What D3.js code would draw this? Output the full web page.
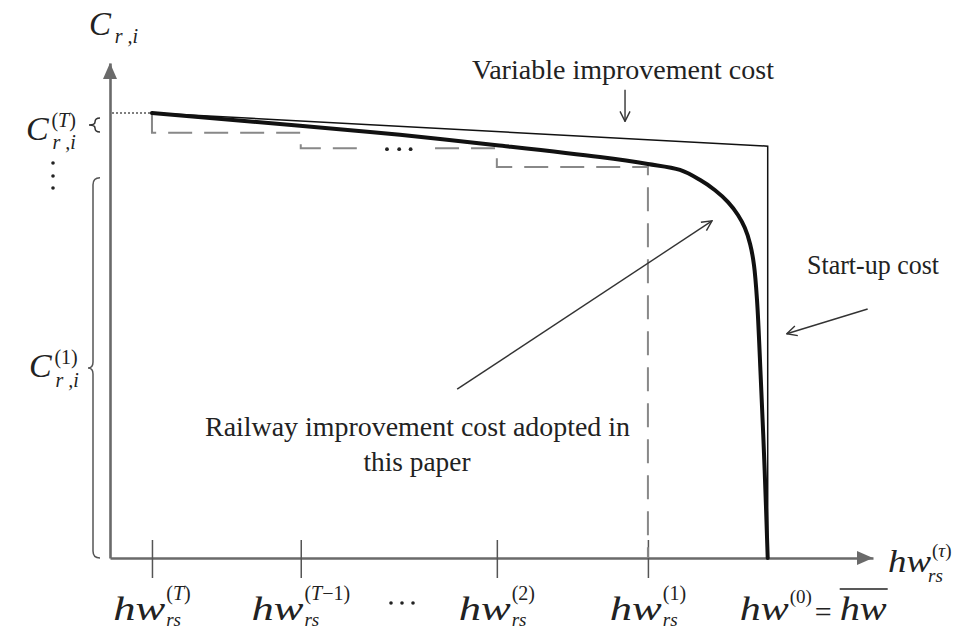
<!DOCTYPE html>
<html>
<head>
<meta charset="utf-8">
<script src="https://cdn.jsdelivr.net/npm/d3@7"></script>
<style>
  html, body { margin: 0; padding: 0; background: #fff; }
  svg { display: block; }
  svg text { font-family: "Liberation Serif", "DejaVu Serif", "Noto Serif", serif; fill: #222; }
</style>
</head>
<body>
<svg id="chart" width="953" height="632"></svg>
<script>
// ---- data (abstract units: headway along x, cost along y, both 0..100) ----
const xTicks     = [5.5, 25.0, 50.7, 70.5];          // hw^(T), hw^(T-1), hw^(2), hw^(1)
const xTickSup   = ["T", "T−1", "2", "1"];
const hwMax      = 86.2;                              // hw^(0) = upper headway bound
const stepLevels = [89.9, 85.9, 82.8, 79.0];          // discrete cost levels
const ellipsisGap = [33.0, 42.6];                     // break in the dashed staircase
const ellipsisX  = [36.3, 37.9, 39.4];

// adopted (smooth) improvement cost
const curveX = [5.5, 24.9, 38.0, 50.7, 64.2, 70.5, 74.7, 77.3, 79.3, 81.0, 82.3, 83.2, 83.9, 84.4, 84.8, 85.3, 85.8, 86.2];
const curveY = [89.9, 87.3, 85.5, 83.4, 81.0, 79.6, 78.4, 76.4, 74.3, 71.9, 69.3, 66.7, 63.4, 59.2, 52.1, 36.0, 17.8, 0];

// variable cost line + start-up cost drop
const variableX = [5.5, 86.2, 86.2];
const variableY = [89.9, 83.2, 0];

// ---- scales & axes ----
const svg = d3.select("#chart");
const x = d3.scaleLinear().domain([0, 100]).range([110, 873]);
const y = d3.scaleLinear().domain([0, 100]).range([558, 63]);

const axisColor = "#6a6a6a";
const serif = '"Liberation Serif", "DejaVu Serif", "Noto Serif", serif';

const gx = svg.append("g").attr("transform", `translate(0,${y(0)})`)
  .call(d3.axisBottom(x).tickValues(xTicks).tickFormat("").tickSizeOuter(0).tickSizeInner(20));
gx.select(".domain").attr("stroke", axisColor).attr("stroke-width", 2.6);
gx.selectAll(".tick line").attr("y1", -18).attr("y2", 20).attr("stroke", "#555").attr("stroke-width", 1.5);

const gy = svg.append("g").attr("transform", `translate(${x(0)},0)`)
  .call(d3.axisLeft(y).tickValues([]).tickSizeOuter(0));
gy.select(".domain").attr("stroke", axisColor).attr("stroke-width", 2.6);

// axis arrowheads
const xt = [x(100), y(0)], yt = [x(0), y(100)];
svg.append("path").attr("fill", axisColor)
  .attr("d", `M${xt[0]},${xt[1]} L${xt[0]-16},${xt[1]-7} L${xt[0]-16},${xt[1]+7} Z`);
svg.append("path").attr("fill", axisColor)
  .attr("d", `M${yt[0]},${yt[1]} L${yt[0]-7},${yt[1]+16} L${yt[0]+7},${yt[1]+16} Z`);

// ---- dashed staircase of discrete costs ----
const stairs = [];
for (let i = 0; i < xTicks.length; i++) {
  stairs.push([xTicks[i], stepLevels[i]]);
  const next = i + 1 < stepLevels.length ? stepLevels[i + 1] : 0;
  stairs.push([xTicks[i], next]);
  if (i === 1) stairs.push([ellipsisGap[0], next], null, [ellipsisGap[1], next]);
}
const line = d3.line().defined(d => d).x(d => x(d[0])).y(d => y(d[1]));
svg.append("path").datum(stairs)
  .attr("d", line).attr("fill", "none")
  .attr("stroke", "#888").attr("stroke-width", 2).attr("stroke-dasharray", "24,12");

svg.selectAll("circle.ell").data(ellipsisX).join("circle").attr("class", "ell")
  .attr("cx", d => x(d)).attr("cy", y(stepLevels[2]) + 1).attr("r", 1.9).attr("fill", "#222");

// dotted guide to the cost axis
svg.append("line")
  .attr("x1", x(0) + 2).attr("x2", x(xTicks[0])).attr("y1", y(stepLevels[0])).attr("y2", y(stepLevels[0]))
  .attr("stroke", "#555").attr("stroke-width", 1.4).attr("stroke-dasharray", "2,2");

// variable improvement cost (thin)
svg.append("path").datum(d3.zip(variableX, variableY))
  .attr("d", d3.line().x(d => x(d[0])).y(d => y(d[1])))
  .attr("fill", "none").attr("stroke", "#111").attr("stroke-width", 1.5);

// adopted improvement cost (thick)
svg.append("path").datum(d3.zip(curveX, curveY))
  .attr("d", d3.line().curve(d3.curveCatmullRom.alpha(0.5)).x(d => x(d[0])).y(d => y(d[1])))
  .attr("fill", "none").attr("stroke", "#111").attr("stroke-width", 4).attr("stroke-linecap", "round");

// ---- annotation arrows ----
const defs = svg.append("defs");
defs.append("marker").attr("id", "open").attr("viewBox", "0 0 12 12")
  .attr("refX", 11).attr("refY", 6).attr("markerWidth", 12).attr("markerHeight", 12)
  .attr("markerUnits", "userSpaceOnUse").attr("orient", "auto")
  .append("path").attr("d", "M1,1 L11,6 L1,11").attr("fill", "none").attr("stroke", "#333").attr("stroke-width", 1.4);

const arrows = [
  [[45.5, 34.1], [78.9, 68.1]],
  [[99.3, 50.3], [88.7, 45.3]],
  [[67.5, 94.6], [67.5, 88.2]]
];
arrows.forEach(([a, b]) => {
  svg.append("line").attr("x1", x(a[0])).attr("y1", y(a[1])).attr("x2", x(b[0])).attr("y2", y(b[1]))
    .attr("stroke", "#333").attr("stroke-width", 1.4).attr("marker-end", "url(#open)");
});

// ---- annotation texts ----
function label(xp, yp, size, str, len, anchor) {
  const t = svg.append("text").attr("x", xp).attr("y", yp).attr("font-size", size)
    .attr("font-family", serif).attr("fill", "#333").text(str);
  if (len) t.attr("textLength", len).attr("lengthAdjust", "spacingAndGlyphs");
  if (anchor) t.attr("text-anchor", anchor);
  return t;
}
label(472, 79, 27, "Variable improvement cost", 302);
label(807, 274, 27, "Start-up cost", 132);
label(205, 436, 27, "Railway improvement cost adopted in", 425);
label(417, 471, 27, "this paper", 107, "middle");

// ---- cost-axis labels ----
function mathText(xp, yp, size, italic) {
  const t = svg.append("text").attr("x", xp).attr("y", yp).attr("font-size", size).attr("font-family", serif);
  if (italic) t.attr("font-style", "italic");
  return t;
}
function costLabel(cx, base, sup, supBase, subBase, size) {
  mathText(cx, base, size, true).text("C");
  const w = size * 0.66;
  if (sup) {
    const t = mathText(cx + w + 3, supBase, 20, false);
    t.append("tspan").text("(");
    t.append("tspan").attr("font-style", sup === "T" ? "italic" : "normal").text(sup);
    t.append("tspan").text(")");
  }
  mathText(cx + w + 4, subBase, 20, true).text("r ,i");
}
costLabel(89, 35, null, 0, 43, 33);
costLabel(26, 140, "T", 127, 149, 34);
costLabel(29, 377, "1", 364, 387, 34);

// small brace for C^(T)
{
  const p = d3.path(), bx = 95, cy = y(stepLevels[0]) + 12;
  p.moveTo(bx + 5, cy - 7);
  p.quadraticCurveTo(bx, cy - 7, bx, cy - 3);
  p.quadraticCurveTo(bx, cy, bx - 6, cy);
  p.quadraticCurveTo(bx, cy, bx, cy + 3);
  p.quadraticCurveTo(bx, cy + 7, bx + 5, cy + 7);
  svg.append("path").attr("d", p.toString()).attr("fill", "none").attr("stroke", "#333").attr("stroke-width", 1.5);
}

// vertical ellipsis between the level labels
svg.selectAll("circle.vd").data([163, 176, 188]).join("circle").attr("class", "vd")
  .attr("cx", 53).attr("cy", d => d).attr("r", 1.8).attr("fill", "#222");

// large brace spanning C^(1)
{
  const bx = 93, top = y(76.8), bot = y(0), mid = (top + bot) / 2;
  const p = d3.path();
  p.moveTo(bx + 7, top);
  p.quadraticCurveTo(bx, top, bx, top + 7);
  p.lineTo(bx, mid - 6);
  p.quadraticCurveTo(bx, mid, bx - 5, mid);
  p.quadraticCurveTo(bx, mid, bx, mid + 6);
  p.lineTo(bx, bot - 7);
  p.quadraticCurveTo(bx, bot, bx + 7, bot);
  svg.append("path").attr("d", p.toString()).attr("fill", "none").attr("stroke", "#555").attr("stroke-width", 1.5);
}

// ---- headway tick labels ----
function supText(sx, sy, s) {
  const t = mathText(sx, sy, 20, false);
  t.append("tspan").text("(");
  if (s.startsWith("T")) {
    t.append("tspan").attr("font-style", "italic").text("T");
    t.append("tspan").text(s.slice(1) + ")");
  } else {
    t.append("tspan").text(s + ")");
  }
  return t;
}
xTicks.forEach((v, i) => {
  const hwW = 52;
  const sup = supText(0, 600, xTickSup[i]);
  const sw = sup.node().getComputedTextLength();
  const start = x(v) - (hwW + sw + 1) / 2;
  mathText(start, 620, 33, true).attr("textLength", hwW).attr("lengthAdjust", "spacingAndGlyphs").text("hw");
  sup.attr("x", start + hwW + 1);
  mathText(start + hwW + 1, 626, 19, true).text("rs");
});

// middle dots between hw^(T-1) and hw^(2)
svg.selectAll("circle.hd").data([391, 402, 413]).join("circle").attr("class", "hd")
  .attr("cx", d => d).attr("cy", 603).attr("r", 1.8).attr("fill", "#222");

// hw^(0) = overline hw
{
  const s = x(hwMax) - 28;
  mathText(s, 620, 33, true).attr("textLength", 49).attr("lengthAdjust", "spacingAndGlyphs").text("hw");
  mathText(s + 50, 603, 19, false).text("(0)");
  mathText(s + 75, 622, 30, false).text("=");
  mathText(s + 100, 620, 33, true).attr("textLength", 47).attr("lengthAdjust", "spacingAndGlyphs").text("hw");
  svg.append("line").attr("x1", s + 100).attr("x2", s + 148).attr("y1", 589).attr("y2", 589)
    .attr("stroke", "#222").attr("stroke-width", 1.6);
}

// headway axis title hw^(τ)_rs
{
  const s = x(100) + 15;
  mathText(s, 572, 31, true).attr("textLength", 43).attr("lengthAdjust", "spacingAndGlyphs").text("hw");
  const t = mathText(s + 44, 557, 19, false);
  t.append("tspan").text("(");
  t.append("tspan").attr("font-style", "italic").text("τ");
  t.append("tspan").text(")");
  mathText(s + 40, 582, 19, true).text("rs");
}
</script>
</body>
</html>
